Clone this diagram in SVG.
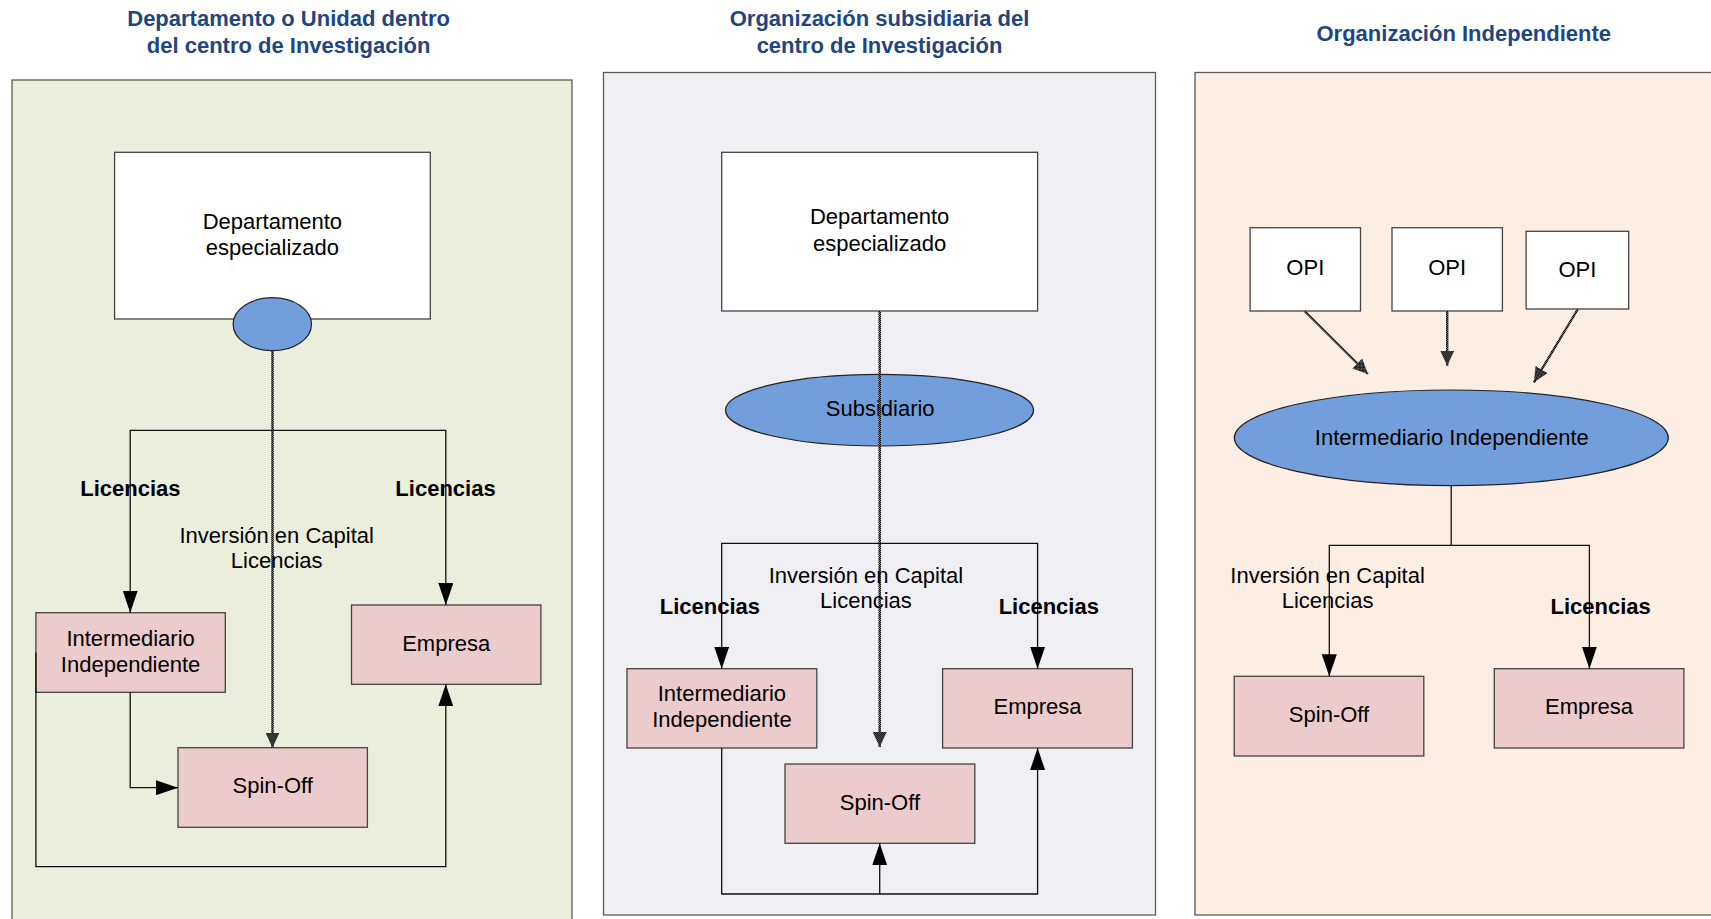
<svg xmlns="http://www.w3.org/2000/svg" width="1711" height="919" viewBox="0 0 1711 919">
  <style>
    text { font-family: "Liberation Sans", Arial, sans-serif; font-size: 22px; fill: #000; }
    .title { font-weight: bold; fill: #1F4681; text-anchor: middle; }
    .c { text-anchor: middle; }
    .b { font-weight: bold; text-anchor: middle; }
    .panel { stroke: #5a5a5a; stroke-width: 1.3; }
    .box { fill: #fff; stroke: #444; stroke-width: 1.3; }
    .pink { fill: #EBCBCB; stroke: #444; stroke-width: 1.3; }
    .oval { fill: #729FDB; stroke: #222; stroke-width: 1.2; }
    .line { fill: none; stroke: #111; stroke-width: 1.3; }
    .hatch { fill: none; stroke: url(#dots); stroke-width: 2.4; }
  </style>
  <defs>
    <!-- fine checker used for the textured connectors -->
    <pattern id="dots" width="2" height="2" patternUnits="userSpaceOnUse">
      <rect width="2" height="2" fill="#6a6a6a"/>
      <rect width="1" height="1" fill="#000"/>
      <rect x="1" y="1" width="1" height="1" fill="#000"/>
    </pattern>
    <marker id="arr" viewBox="0 0 22 15" refX="22" refY="7.5" markerWidth="22" markerHeight="15" orient="auto" markerUnits="userSpaceOnUse">
      <path d="M0,0 L22,7.5 L0,15 Z" fill="#000"/>
    </marker>
    <marker id="harr" viewBox="0 0 15 14" refX="15" refY="7" markerWidth="15" markerHeight="14" orient="auto" markerUnits="userSpaceOnUse">
      <path d="M0,0 L15,7 L0,14 Z" fill="url(#dots)"/>
    </marker>
  </defs>

  <rect width="1711" height="919" fill="#fff"/>

  <!-- column titles -->
  <g id="titles">
    <text class="title" x="288.6" y="26">Departamento o Unidad dentro</text>
    <text class="title" x="288.6" y="53">del centro de Investigación</text>
    <text class="title" x="879.5" y="26">Organización subsidiaria del</text>
    <text class="title" x="879.5" y="53">centro de Investigación</text>
    <text class="title" x="1463.8" y="40.7">Organización Independiente</text>
  </g>

  <!-- background panels -->
  <g id="panels">
    <rect id="panel-departamento" class="panel" x="12" y="80" width="560" height="860" fill="#EBEEDD"/>
    <rect id="panel-subsidiaria" class="panel" x="603.5" y="72.5" width="552" height="842.5" fill="#F0EFF4"/>
    <rect id="panel-independiente" class="panel" x="1195" y="72.5" width="600" height="842.5" fill="#FCEEE3"/>
  </g>

  <!-- column 1 -->
  <g id="dept1">
    <rect class="box" x="114.6" y="152.3" width="315.7" height="166.7"/>
    <text class="c" x="272.4" y="228.7">Departamento</text>
    <text class="c" x="272.4" y="255">especializado</text>
  </g>
  <g id="nodo1">
    <ellipse class="oval" cx="272.3" cy="324.2" rx="39.2" ry="26.5"/>
  </g>
  <g id="intermediario1">
    <rect class="pink" x="35.9" y="612.7" width="189.4" height="79.6"/>
    <text class="c" x="130.6" y="645.7">Intermediario</text>
    <text class="c" x="130.6" y="671.7">Independiente</text>
  </g>
  <g id="empresa1">
    <rect class="pink" x="351.5" y="605" width="189.4" height="79.3"/>
    <text class="c" x="446.2" y="650.7">Empresa</text>
  </g>
  <g id="spinoff1">
    <rect class="pink" x="178" y="747.7" width="189.4" height="79.6"/>
    <text class="c" x="272.7" y="793.3">Spin-Off</text>
  </g>

  <!-- column 2 -->
  <g id="dept2">
    <rect class="box" x="721.7" y="152.3" width="315.9" height="158.7"/>
    <text class="c" x="879.6" y="224">Departamento</text>
    <text class="c" x="879.6" y="250.7">especializado</text>
  </g>
  <g id="subsidiario">
    <ellipse class="oval" cx="879.5" cy="410.2" rx="154" ry="35.8"/>
    <text class="c" x="880.2" y="416">Subsidiario</text>
  </g>
  <g id="intermediario2">
    <rect class="pink" x="627" y="668.7" width="189.8" height="79.3"/>
    <text class="c" x="721.9" y="701">Intermediario</text>
    <text class="c" x="721.9" y="727.3">Independiente</text>
  </g>
  <g id="empresa2">
    <rect class="pink" x="942.6" y="668.7" width="189.8" height="79.3"/>
    <text class="c" x="1037.5" y="714.3">Empresa</text>
  </g>
  <g id="spinoff2">
    <rect class="pink" x="785" y="764" width="189.8" height="79.3"/>
    <text class="c" x="879.9" y="810">Spin-Off</text>
  </g>

  <!-- column 3 -->
  <g id="opi1">
    <rect class="box" x="1250.1" y="227.7" width="110.4" height="83.3"/>
    <text class="c" x="1305.3" y="275">OPI</text>
  </g>
  <g id="opi2">
    <rect class="box" x="1392" y="227.7" width="110.4" height="83.3"/>
    <text class="c" x="1447.2" y="275">OPI</text>
  </g>
  <g id="opi3">
    <rect class="box" x="1526.1" y="231.3" width="102.6" height="77.7"/>
    <text class="c" x="1577.4" y="276.7">OPI</text>
  </g>
  <g id="intermediario3">
    <ellipse class="oval" cx="1451.3" cy="437.8" rx="217" ry="47.8"/>
    <text class="c" x="1451.8" y="445">Intermediario Independiente</text>
  </g>
  <g id="spinoff3">
    <rect class="pink" x="1234.2" y="676.3" width="189.6" height="79.7"/>
    <text class="c" x="1329" y="721.7">Spin-Off</text>
  </g>
  <g id="empresa3">
    <rect class="pink" x="1494.3" y="668.7" width="189.6" height="79.3"/>
    <text class="c" x="1589.1" y="714.3">Empresa</text>
  </g>

  <!-- connectors -->
  <g id="connectors">
    <!-- column 1 -->
    <path class="hatch" d="M272.5,350.7 V747.7" marker-end="url(#harr)"/>
    <path class="line" d="M272.5,430.3 H130.2 V612.7" marker-end="url(#arr)"/>
    <path class="line" d="M272.5,430.3 H445.8 V605" marker-end="url(#arr)"/>
    <path class="line" d="M130.2,692.3 V787.7 H178" marker-end="url(#arr)"/>
    <path class="line" d="M35.9,652.5 V866.7 H445.8 V684.3" marker-end="url(#arr)"/>
    <!-- column 2 -->
    <path class="hatch" d="M879.7,311 V747" marker-end="url(#harr)"/>
    <path class="line" d="M879.7,543.3 H721.7 V668.7" marker-end="url(#arr)"/>
    <path class="line" d="M879.7,543.3 H1037.6 V668.7" marker-end="url(#arr)"/>
    <path class="line" d="M721.7,748 V894 H1037.6 V748" marker-end="url(#arr)"/>
    <path class="line" d="M879.7,894 V843.3" marker-end="url(#arr)"/>
    <!-- column 3 -->
    <path class="hatch" d="M1304.6,311 L1367.9,374" marker-end="url(#harr)"/>
    <path class="hatch" d="M1447.2,311 V365.7" marker-end="url(#harr)"/>
    <path class="hatch" d="M1577.9,309 L1533.9,382.3" marker-end="url(#harr)"/>
    <path class="line" d="M1451.2,485.7 V545.3"/>
    <path class="line" d="M1451.2,545.3 H1329.3 V676.3" marker-end="url(#arr)"/>
    <path class="line" d="M1451.2,545.3 H1589.4 V668.7" marker-end="url(#arr)"/>
  </g>

  <!-- connector labels -->
  <g id="labels">
    <text class="b" x="130.4" y="496">Licencias</text>
    <text class="b" x="445.5" y="496">Licencias</text>
    <text class="c" x="276.7" y="542.7">Inversión en Capital</text>
    <text class="c" x="276.7" y="568.3">Licencias</text>

    <text class="b" x="709.9" y="614.3">Licencias</text>
    <text class="b" x="1048.8" y="614.3">Licencias</text>
    <text class="c" x="865.9" y="582.7">Inversión en Capital</text>
    <text class="c" x="865.9" y="608.3">Licencias</text>

    <text class="c" x="1327.6" y="582.7">Inversión en Capital</text>
    <text class="c" x="1327.6" y="608.3">Licencias</text>
    <text class="b" x="1600.7" y="614.3">Licencias</text>
  </g>
</svg>
